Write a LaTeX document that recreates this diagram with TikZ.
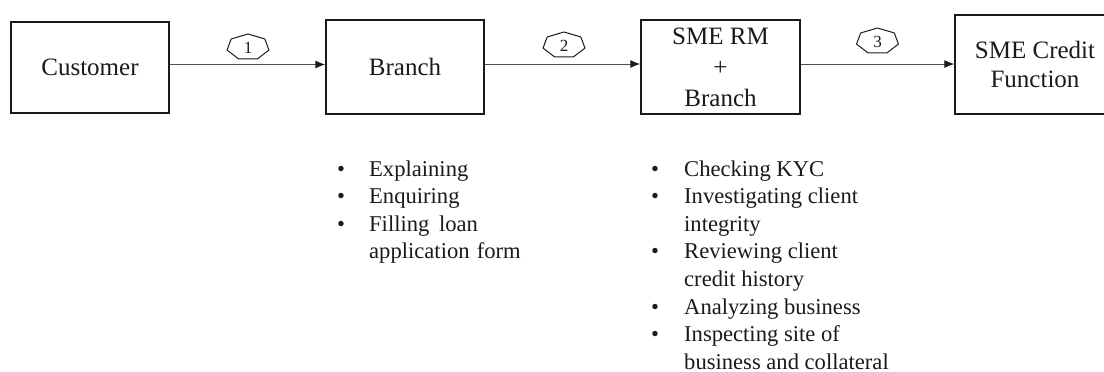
\documentclass[tikz,border=0pt]{standalone}
\usepackage{fontspec}
\setmainfont{Liberation Serif}
\usetikzlibrary{arrows.meta}
\definecolor{ink}{HTML}{1A1A1A}
\definecolor{wire}{HTML}{505050}

\begin{document}
\begin{tikzpicture}[x=1pt,y=1pt,
  stage/.style={draw=ink, line width=1.4pt, inner sep=0pt, align=center, text=ink,
    font=\fontsize{25}{31}\selectfont},
  flow/.style={draw=wire, line width=1pt, -{Latex[length=10pt,width=8pt,color=ink]}},
  tag/.style={inner sep=0pt, text=ink, font=\fontsize{17}{17}\selectfont},
  tagline/.style={draw=ink, line width=1pt, line join=round},
  notes/.style={inner sep=0pt, anchor=base west, text=ink,
    font=\fontsize{22.6}{27.6}\selectfont}]
\useasboundingbox (0,0) rectangle (1104,-372);

% process stages
\node[stage, minimum width=158, minimum height=91] (cust) at (90,-67.5) {Customer};
\node[stage, minimum width=158, minimum height=94] (branch) at (405,-67) {Branch};
\node[stage, minimum width=159, minimum height=94] (smerm) at (720.5,-67) {SME RM\\+\\Branch};
\node[stage, minimum width=160, minimum height=99, font=\fontsize{25}{28.5}\selectfont]
  (credit) at (1035,-64.5) {SME Credit\\Function};

% flow between stages
\draw[flow] ([yshift=3]cust.east) -- ([yshift=2.5]branch.west);
\draw[flow] ([yshift=3]branch.east) -- ([yshift=3]smerm.west);
\draw[flow] ([yshift=3]smerm.east) -- ([yshift=0.5]credit.west);

% numbered step tags
\node[tag] (t1) at (248,-47.8) {1};
\node[tag] (t2) at (564,-45.8) {2};
\node[tag] (t3) at (877.5,-41.8) {3};
\foreach \t in {t1,t2,t3}
  \draw[tagline, shift={([yshift=0.65]\t.center)}, xscale=21.5, yscale=13.15]
    (90:1) \foreach \k in {1,...,6} { -- (90+\k*360/7:1) } -- cycle;

% activities at each stage
\node[notes] (branchnotes) at (337,-176) {%
  \begin{tabular}[t]{@{}p{32pt}@{}l@{}}
  \textbullet & Explaining\\
  \textbullet & Enquiring\\
  \textbullet & Filling\hspace{4pt} loan\\
              & application\hspace{1.5pt} form
  \end{tabular}};
\node[notes] (rmnotes) at (651,-176) {%
  \begin{tabular}[t]{@{}p{33pt}@{}l@{}}
  \textbullet & Checking KYC\\
  \textbullet & Investigating client\\
              & integrity\\
  \textbullet & Reviewing client\\
              & credit history\\
  \textbullet & Analyzing business\\
  \textbullet & Inspecting site of\\
              & business and collateral
  \end{tabular}};
\end{tikzpicture}
\end{document}
